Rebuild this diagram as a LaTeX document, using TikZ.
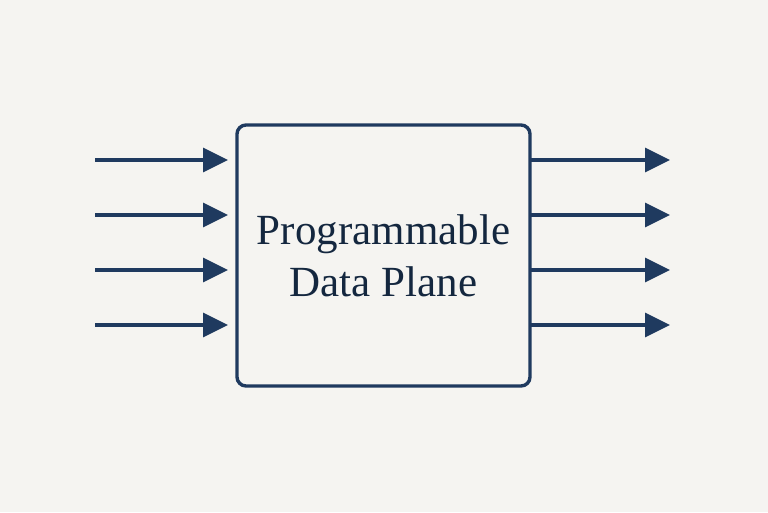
\documentclass[tikz,border=0pt]{standalone}
\usepackage{fontspec}
\setmainfont{Liberation Serif}
\usetikzlibrary{arrows.meta}
\definecolor{navy}{HTML}{1F3A5F}
\definecolor{txt}{HTML}{14273F}
\definecolor{bg}{HTML}{F5F4F1}
\begin{document}
\begin{tikzpicture}[x=1pt,y=-1pt,
  flow/.style={draw=navy,line width=3.4pt,-{Triangle[length=25pt,width=24pt]}}]
\fill[bg] (0,0) rectangle (768,512);
\useasboundingbox (0,0) rectangle (768,512);
\node[draw=navy,line width=3.4pt,rounded corners=9pt,minimum width=293pt,minimum height=261pt,
  inner sep=0pt,align=center,text=txt,font=\fontsize{43}{52}\selectfont] (dp) at (383.5,255.5) {Programmable\\Data Plane};
\foreach \i/\y in {1/160,2/215,3/270,4/325}{
  \coordinate (in\i s) at (95,\y);
  \coordinate (in\i e) at (228,\y);
  \coordinate (out\i s) at (530,\y);
  \coordinate (out\i e) at (670,\y);
  \draw[flow] (in\i s) -- (in\i e);
  \draw[flow] (out\i s) -- (out\i e);
}
\end{tikzpicture}
\end{document}
